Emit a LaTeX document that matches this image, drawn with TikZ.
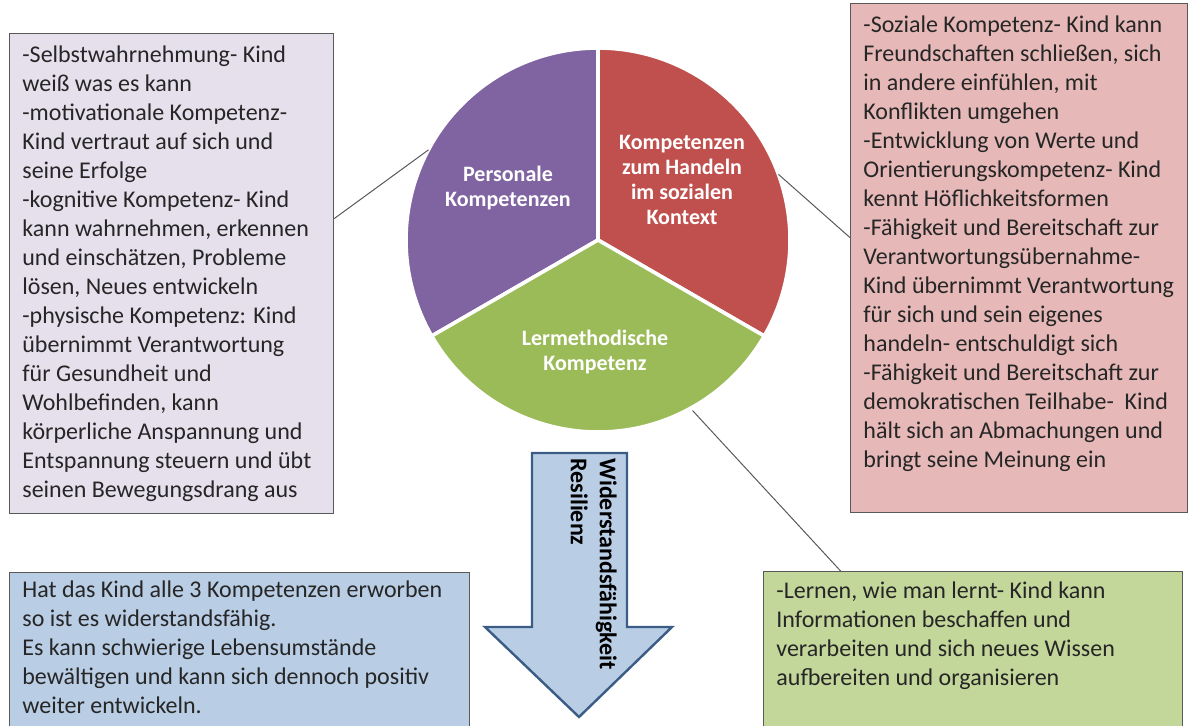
\documentclass[tikz,border=0pt]{standalone}
\usepackage{fontspec}
\setmainfont{Carlito}
\usetikzlibrary{positioning,calc}

\definecolor{lilaBox}{HTML}{E6E0EC}
\definecolor{rotBox}{HTML}{E6B9B8}
\definecolor{blauBox}{HTML}{B9CDE5}
\definecolor{gruenBox}{HTML}{C4D79B}
\definecolor{randGrau}{HTML}{595959}
\definecolor{textGrau}{HTML}{262626}
\definecolor{lila}{HTML}{8064A2}
\definecolor{rot}{HTML}{C0504D}
\definecolor{gruen}{HTML}{9BBB59}
\definecolor{pfeilRand}{HTML}{3B5C85}

\tikzset{
  infobox/.style={draw=randGrau, line width=0.6pt, inner sep=0pt, anchor=north west},
  infotext/.style={anchor=north west, align=left, inner sep=0pt, text=textGrau,
    font=\fontsize{12}{14.5}\selectfont},
  stuecklabel/.style={align=center, text=white, font=\bfseries\fontsize{11}{12.5}\selectfont},
  verbinder/.style={draw=randGrau, line width=0.5pt}
}

\begin{document}
\begin{tikzpicture}[x=0.5pt, y=0.5pt]
\clip (0,0) rectangle (1188,725);

% Kreisdiagramm
\coordinate (mitte) at (598,485);
\filldraw[fill=lila, draw=white, line width=1.8pt] (mitte) -- ++(90:192) arc (90:210:192) -- cycle;
\filldraw[fill=rot, draw=white, line width=1.8pt] (mitte) -- ++(-30:192) arc (-30:90:192) -- cycle;
\filldraw[fill=gruen, draw=white, line width=1.8pt] (mitte) -- ++(210:192) arc (210:330:192) -- cycle;

\node[stuecklabel] (personalLabel) at (508,537) {Personale\\Kompetenzen};
\node[stuecklabel] (sozialLabel) at (682,545) {Kompetenzen\\zum Handeln\\im sozialen\\Kontext};
\node[stuecklabel] (lernLabel) at (595,373) {Lermethodische\\Kompetenz};

% Kaesten
\node[infobox, fill=lilaBox, minimum width=162pt, minimum height=240pt] (personal) at (9,692) {};
\node[infobox, fill=rotBox, minimum width=168.5pt, minimum height=254.5pt] (sozial) at (850,722) {};
\node[infobox, fill=blauBox, minimum width=230pt, minimum height=85pt] (resilienz) at (9,153) {};
\node[infobox, fill=gruenBox, minimum width=209.5pt, minimum height=85pt] (lernen) at (763,154) {};

\node[infotext, below right=6pt and 6.5pt of personal.north west] (personalText) {%
-Selbstwahrnehmung- Kind\\
weiß was es kann\\
-motivationale Kompetenz-\\
Kind vertraut auf sich und\\
seine Erfolge\\
-kognitive Kompetenz- Kind\\
kann wahrnehmen, erkennen\\
und einschätzen, Probleme\\
lösen, Neues entwickeln\\
-physische Kompetenz: Kind\\
übernimmt Verantwortung\\
für Gesundheit und\\
Wohlbefinden, kann\\
körperliche Anspannung und\\
Entspannung steuern und übt\\
seinen Bewegungsdrang aus};

\node[infotext, below right=6pt and 6.5pt of sozial.north west] (sozialText) {%
-Soziale Kompetenz- Kind kann\\
Freundschaften schließen, sich\\
in andere einfühlen, mit\\
Konflikten umgehen\\
-Entwicklung von Werte und\\
Orientierungskompetenz- Kind\\
kennt Höflichkeitsformen\\
-Fähigkeit und Bereitschaft zur\\
Verantwortungsübernahme-\\
Kind übernimmt Verantwortung\\
für sich und sein eigenes\\
handeln- entschuldigt sich\\
-Fähigkeit und Bereitschaft zur\\
demokratischen Teilhabe-~~Kind\\
hält sich an Abmachungen und\\
bringt seine Meinung ein};

\node[infotext, below right=4pt and 6.5pt of resilienz.north west] (resilienzText) {%
Hat das Kind alle 3 Kompetenzen erworben\\
so ist es widerstandsfähig.\\
Es kann schwierige Lebensumstände\\
bewältigen und kann sich dennoch positiv\\
weiter entwickeln.};

\node[infotext, below right=5pt and 6.5pt of lernen.north west] (lernenText) {%
-Lernen, wie man lernt- Kind kann\\
Informationen beschaffen und\\
verarbeiten und sich neues Wissen\\
aufbereiten und organisieren};

% Pfeil nach unten
\filldraw[fill=blauBox, draw=pfeilRand, line width=1.2pt]
  (532,272) -- (627,272) -- (627,98) -- (672,98) -- (579,8) -- (485,98) -- (532,98) -- cycle;
\node[rotate=-90, anchor=north west, align=left, inner sep=0pt,
  font=\bfseries\fontsize{12}{14.5}\selectfont] (pfeilText) at (617,267)
  {Widerstandsfähigkeit\\Resilienz};

% Verbindungslinien
\coordinate (randPersonal) at ($(mitte)+(152:192)$);
\coordinate (randSozial) at ($(mitte)+(20:192)$);
\coordinate (randLernen) at ($(mitte)+(-61:195)$);
\draw[verbinder] ([yshift=27.5pt]personal.east) -- (randPersonal);
\draw[verbinder] (randSozial) -- ([yshift=10.25pt]sozial.west);
\draw[verbinder] (randLernen) -- ([xshift=-66.25pt]lernen.north);
\end{tikzpicture}
\end{document}
